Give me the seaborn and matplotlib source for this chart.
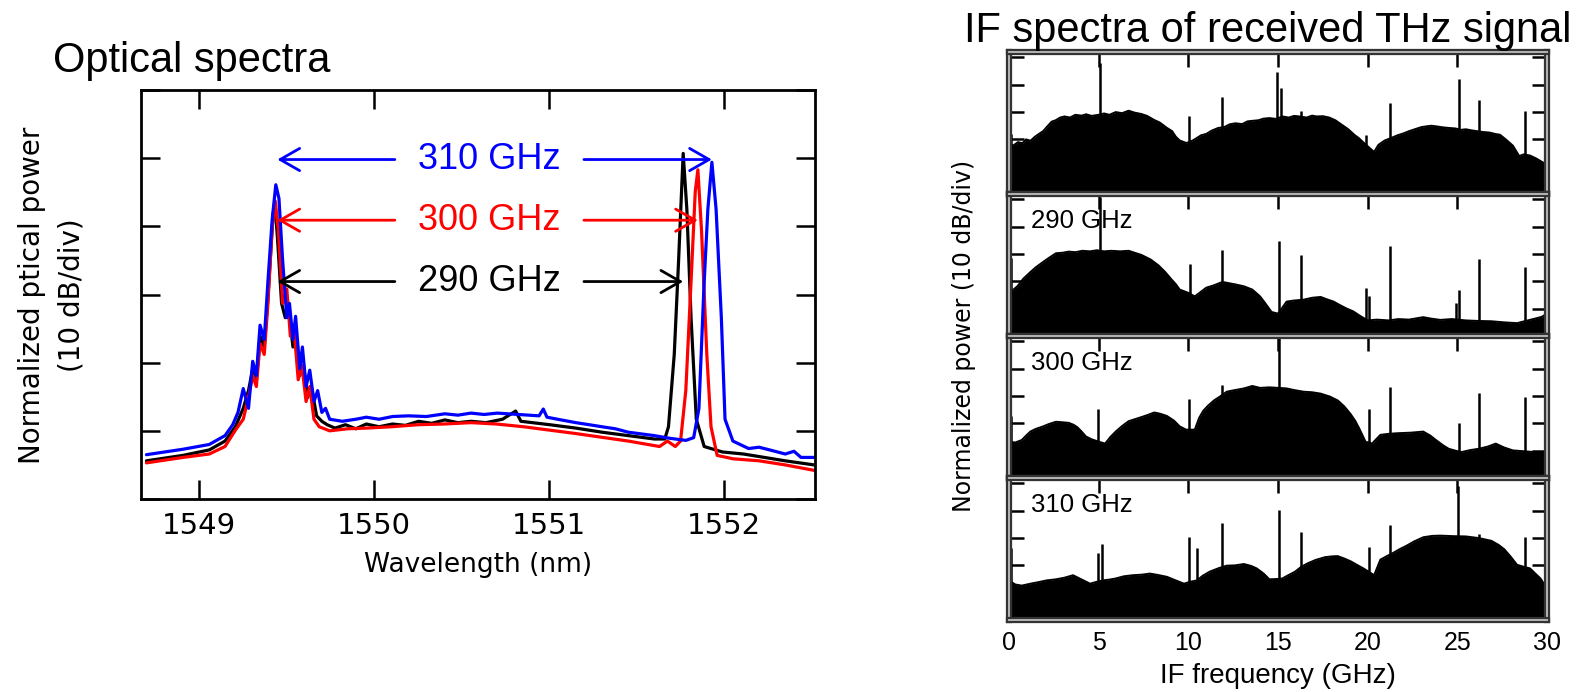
import numpy as np
import pandas as pd
import seaborn as sns
import matplotlib.pyplot as plt
import matplotlib.patheffects as pe

# -------------------------------
# Optical spectra (wavelength in nm, power in 10 dB divisions above frame bottom)
# -------------------------------
wl_blue = [1548.701, 1548.910, 1549.060, 1549.150, 1549.194, 1549.224, 1549.254, 1549.284,
           1549.308, 1549.329, 1549.350, 1549.374, 1549.395, 1549.419, 1549.440, 1549.458,
           1549.479, 1549.503, 1549.518, 1549.538, 1549.553, 1549.577, 1549.592, 1549.613,
           1549.634, 1549.658, 1549.679, 1549.703, 1549.724, 1549.748, 1549.820, 1549.897,
           1549.957, 1550.030, 1550.107, 1550.197, 1550.300, 1550.406, 1550.480, 1550.555,
           1550.630, 1550.705, 1550.825, 1550.944, 1550.968, 1550.989, 1551.070, 1551.154,
           1551.230, 1551.303, 1551.380, 1551.453, 1551.602, 1551.692, 1551.782, 1551.827,
           1551.857, 1551.887, 1551.908, 1551.931, 1551.955, 1551.985, 1552.006, 1552.051,
           1552.141, 1552.200, 1552.261, 1552.350, 1552.400, 1552.440, 1552.515]
pw_blue = [0.65, 0.73, 0.80, 0.93, 1.09, 1.27, 1.62, 1.33,
           2.02, 1.81, 2.55, 2.34, 3.19, 4.09, 4.61, 4.41,
           3.50, 2.66, 2.87, 2.34, 2.68, 1.91, 2.23, 1.65,
           1.89, 1.43, 1.59, 1.27, 1.33, 1.17, 1.14, 1.17,
           1.20, 1.17, 1.21, 1.22, 1.21, 1.25, 1.23, 1.26,
           1.24, 1.26, 1.24, 1.22, 1.32, 1.20, 1.16, 1.12,
           1.09, 1.06, 1.03, 0.98, 0.93, 0.89, 0.86, 0.90,
           1.33, 3.19, 4.25, 4.94, 4.25, 2.66, 1.17, 0.85,
           0.74, 0.76, 0.72, 0.66, 0.70, 0.61, 0.61]

wl_red = [1548.701, 1548.910, 1549.060, 1549.150, 1549.209, 1549.254, 1549.284, 1549.308,
          1549.329, 1549.350, 1549.374, 1549.395, 1549.419, 1549.437, 1549.455, 1549.479,
          1549.503, 1549.523, 1549.544, 1549.568, 1549.589, 1549.613, 1549.634, 1549.658,
          1549.688, 1549.748, 1549.850, 1549.957, 1550.100, 1550.256, 1550.400, 1550.555,
          1550.700, 1550.855, 1551.154, 1551.453, 1551.632, 1551.677, 1551.722, 1551.752,
          1551.782, 1551.812, 1551.836, 1551.851, 1551.872, 1551.902, 1551.926, 1551.961,
          1552.051, 1552.201, 1552.350, 1552.515]
pw_red = [0.53, 0.61, 0.66, 0.77, 1.01, 1.17, 1.49, 1.81,
          1.65, 2.28, 2.12, 2.87, 3.98, 4.37, 3.93, 2.87,
          3.08, 2.39, 2.50, 1.75, 1.96, 1.43, 1.65, 1.17,
          1.06, 1.00, 1.03, 1.04, 1.06, 1.09, 1.10, 1.12,
          1.10, 1.06, 0.96, 0.85, 0.77, 0.85, 0.77, 0.85,
          1.59, 3.19, 4.51, 4.83, 3.93, 2.12, 1.06, 0.64,
          0.59, 0.56, 0.50, 0.42]

wl_black = [1548.701, 1548.910, 1549.060, 1549.150, 1549.209, 1549.254, 1549.284, 1549.308,
            1549.329, 1549.350, 1549.374, 1549.395, 1549.413, 1549.425, 1549.437, 1549.449,
            1549.473, 1549.494, 1549.515, 1549.538, 1549.556, 1549.577, 1549.598, 1549.622,
            1549.643, 1549.673, 1549.703, 1549.733, 1549.778, 1549.838, 1549.897, 1549.957,
            1550.030, 1550.107, 1550.180, 1550.256, 1550.330, 1550.406, 1550.480, 1550.555,
            1550.640, 1550.735, 1550.810, 1550.840, 1551.004, 1551.154, 1551.303, 1551.453,
            1551.602, 1551.662, 1551.683, 1551.716, 1551.740, 1551.767, 1551.788, 1551.812,
            1551.842, 1551.887, 1551.991, 1552.111, 1552.231, 1552.350, 1552.515]
pw_black = [0.56, 0.64, 0.72, 0.85, 1.06, 1.33, 1.59, 1.91,
            1.75, 2.39, 2.23, 2.95, 3.70, 4.20, 4.25, 3.85,
            2.87, 2.66, 2.76, 2.23, 2.44, 1.81, 1.96, 1.49,
            1.65, 1.22, 1.14, 1.09, 1.04, 1.09, 1.03, 1.10,
            1.06, 1.10, 1.08, 1.14, 1.11, 1.16, 1.12, 1.14,
            1.12, 1.17, 1.29, 1.14, 1.09, 1.04, 0.98, 0.93,
            0.88, 0.88, 1.06, 2.12, 3.45, 5.07, 4.25, 2.66,
            1.17, 0.77, 0.69, 0.66, 0.61, 0.56, 0.50]

arrow_labels = ["310 GHz", "300 GHz", "290 GHz"]
arrow_colors = ["#0000ff", "#ff0000", "#000000"]
arrow_levels = [4.98, 4.09, 3.19]
arrow_right = [1551.931, 1551.851, 1551.767]
arrow_left = 1549.449

# -------------------------------
# IF spectra (GHz, level in 10 dB divisions)
# -------------------------------
if_names = ["", "290 GHz", "300 GHz", "310 GHz"]

f_p1 = [0, 0.25, 0.5, 0.75, 0.95, 1.2, 1.45, 1.67, 1.9, 2.1, 2.38, 2.6, 2.85, 3.1, 3.4,
        3.7, 4.05, 4.3, 4.6, 5.0, 5.3, 5.6, 5.95, 6.3, 6.67, 7.0, 7.38, 7.7, 8.1, 8.4,
        8.81, 9.1, 9.3, 9.52, 9.88, 10.05, 10.3, 10.71, 11.0, 11.3, 11.67, 12.0, 12.3,
        12.62, 13.0, 13.3, 13.57, 13.9, 14.2, 14.52, 14.9, 15.24, 15.6, 15.9, 16.19,
        16.6, 16.9, 17.14, 17.5, 17.86, 18.2, 18.57, 18.9, 19.29, 19.5, 19.76, 20.0,
        20.36, 20.6, 20.95, 21.3, 21.67, 22.0, 22.3, 22.62, 23.0, 23.3, 23.57, 23.9,
        24.2, 24.52, 24.9, 25.2, 25.48, 25.8, 26.1, 26.43, 26.8, 27.1, 27.38, 27.7,
        28.1, 28.45, 28.7, 29.05, 29.4, 29.76, 30]
l_p1 = [1.83, 1.78, 1.9, 1.86, 2.0, 1.95, 2.1, 2.2, 2.3, 2.45, 2.65, 2.7, 2.8, 2.84, 2.8,
        2.9, 2.87, 2.92, 2.86, 2.9, 2.95, 2.9, 3.0, 2.96, 3.05, 2.98, 2.93, 2.86, 2.71, 2.62,
        2.42, 2.3, 2.1, 1.96, 1.87, 1.9, 1.98, 2.15, 2.2, 2.32, 2.42, 2.45, 2.55,
        2.59, 2.56, 2.66, 2.68, 2.7, 2.76, 2.78, 2.75, 2.84, 2.8, 2.86, 2.84,
        2.8, 2.87, 2.84, 2.85, 2.8, 2.7, 2.53, 2.38, 2.15, 2.05, 1.89, 1.75,
        1.54, 1.8, 1.96, 2.05, 2.15, 2.22, 2.3, 2.37, 2.45, 2.48, 2.5, 2.47,
        2.44, 2.42, 2.4, 2.35, 2.37, 2.33, 2.3, 2.27, 2.25, 2.2, 2.17, 2.0,
        1.77, 1.39, 1.45, 1.41, 1.3, 1.16, 1.07]
sf_p1 = [0.1, 5.1, 10.05, 11.9, 14.95, 15.14, 16.3, 19.9, 21.25, 25.1, 26.2, 28.8]
sh_p1 = [2.2, 4.8, 2.84, 3.54, 4.48, 3.9, 3.03, 2.15, 3.35, 4.2, 3.43, 3.03]

f_p2 = [0, 0.25, 0.48, 0.8, 1.19, 1.5, 1.9, 2.2, 2.62, 3.0, 3.33, 3.7, 4.1, 4.52, 4.9,
        5.3, 5.71, 6.2, 6.67, 7.0, 7.38, 7.9, 8.33, 8.7, 9.05, 9.3, 9.52, 10.0, 10.36,
        10.7, 11.0, 11.4, 11.9, 12.3, 12.62, 13.1, 13.57, 14.0, 14.29, 14.64, 15.0, 15.48,
        15.9, 16.43, 16.9, 17.38, 17.7, 18.1, 18.4, 18.81, 19.2, 19.52, 20.0, 20.5, 21.19,
        21.7, 22.3, 23.1, 23.5, 24.05, 24.7, 25.48, 26.2, 26.9, 27.6, 28.33, 28.8, 29.29,
        29.7, 30]
l_p2 = [1.58, 1.7, 1.83, 2.1, 2.34, 2.52, 2.71, 2.85, 3.03, 3.05, 3.09, 3.07, 3.12, 3.1, 3.14,
        3.1, 3.12, 3.1, 3.12, 3.05, 2.97, 2.8, 2.59, 2.35, 2.08, 1.9, 1.7, 1.58, 1.45,
        1.62, 1.77, 1.85, 1.98, 1.93, 1.89, 1.82, 1.7, 1.45, 1.2, 0.88, 0.82, 1.26,
        1.3, 1.33, 1.4, 1.43, 1.35, 1.26, 1.15, 1.01, 0.9, 0.76, 0.57, 0.6, 0.57,
        0.62, 0.6, 0.69, 0.64, 0.59, 0.62, 0.57, 0.55, 0.54, 0.5, 0.47, 0.55, 0.63,
        0.7, 0.82]
sf_p2 = [0.1, 5.1, 10.1, 11.9, 15.05, 16.3, 19.9, 20.1, 21.25, 24.9, 25.1, 26.2, 28.8]
sh_p2 = [2.84, 5.1, 2.65, 3.16, 3.47, 2.97, 1.77, 1.45, 3.28, 1.2, 1.7, 2.82, 2.53]

f_p3 = [0, 0.35, 0.71, 0.95, 1.19, 1.5, 1.9, 2.2, 2.62, 3.0, 3.33, 3.6, 3.81, 4.05, 4.29,
        4.6, 5.0, 5.36, 5.65, 5.95, 6.3, 6.67, 7.0, 7.38, 7.7, 8.1, 8.45, 8.81, 9.2, 9.52,
        9.88, 10.36, 10.6, 10.83, 11.1, 11.43, 11.8, 12.14, 12.6, 13.1, 13.57, 14.0, 14.52,
        15.0, 15.48, 15.9, 16.43, 16.9, 17.38, 17.9, 18.33, 18.7, 19.05, 19.3, 19.52, 19.88,
        20.24, 20.71, 21.2, 21.67, 22.4, 23.1, 23.5, 23.81, 24.2, 24.52, 24.9, 25.24, 25.7,
        26.19, 26.7, 27.14, 27.6, 28.1, 28.7, 29.29, 30]
l_p3 = [1.33, 1.3, 1.39, 1.55, 1.7, 1.8, 1.89, 1.97, 2.06, 2.04, 2.02, 1.95, 1.86, 1.7, 1.52,
        1.42, 1.33, 1.26, 1.5, 1.7, 1.9, 2.08, 2.15, 2.23, 2.3, 2.4, 2.35, 2.27, 2.1, 1.89,
        1.77, 1.77, 2.2, 2.46, 2.65, 2.84, 3.0, 3.16, 3.22, 3.28, 3.37, 3.3, 3.32,
        3.3, 3.28, 3.22, 3.16, 3.14, 3.09, 2.98, 2.84, 2.62, 2.34, 2.1, 1.83, 1.33,
        1.26, 1.58, 1.62, 1.64, 1.66, 1.7, 1.55, 1.39, 1.2, 1.07, 1.0, 0.95, 1.02,
        1.07, 1.15, 1.26, 1.12, 1.01, 0.98, 0.95, 0.95]
sf_p3 = [0.1, 4.95, 10.05, 11.9, 15.05, 20.1, 21.25, 25.1, 26.2, 28.8]
sh_p3 = [2.27, 2.53, 2.9, 3.41, 5.2, 2.53, 3.35, 2.02, 3.12, 2.97]

f_p4 = [0, 0.35, 0.71, 1.2, 1.67, 2.1, 2.62, 3.1, 3.57, 4.0, 4.52, 4.9, 5.24, 5.6, 5.95,
        6.4, 6.9, 7.4, 7.86, 8.3, 8.81, 9.3, 9.76, 10.1, 10.48, 10.8, 11.19, 11.7, 12.14,
        12.6, 13.1, 13.5, 13.81, 14.2, 14.52, 14.9, 15.24, 15.6, 15.95, 16.3, 16.67, 17.1,
        17.62, 18.0, 18.33, 18.7, 19.05, 19.4, 19.76, 20.1, 20.36, 20.71, 21.1, 21.43, 21.8,
        22.14, 22.6, 23.1, 23.6, 24.05, 24.8, 25.48, 26.2, 26.9, 27.3, 27.62, 28.0, 28.33,
        28.7, 29.05, 29.35, 29.64, 30]
l_p4 = [1.45, 1.3, 1.26, 1.33, 1.39, 1.45, 1.49, 1.55, 1.64, 1.5, 1.33, 1.4, 1.45, 1.48, 1.52,
        1.6, 1.64, 1.66, 1.7, 1.65, 1.58, 1.45, 1.33, 1.4, 1.45, 1.62, 1.77, 1.9, 1.99,
        2.0, 2.05, 1.98, 1.89, 1.7, 1.49, 1.5, 1.52, 1.65, 1.77, 1.95, 2.08, 2.2,
        2.3, 2.33, 2.34, 2.25, 2.15, 2.02, 1.89, 1.75, 1.64, 2.21, 2.35, 2.46, 2.6,
        2.71, 2.88, 3.03, 3.08, 3.09, 3.07, 3.06, 3.0, 2.9, 2.75, 2.59, 2.3, 2.02,
        1.95, 1.89, 1.7, 1.52, 1.14]
sf_p4 = [0.1, 4.95, 5.2, 10.05, 10.5, 11.9, 15.05, 16.3, 20.1, 21.25, 25.05, 26.2, 28.8]
sh_p4 = [2.65, 2.46, 2.78, 3.03, 2.65, 3.56, 4.04, 3.22, 2.68, 3.47, 4.92, 3.16, 3.03]

if_freqs = [f_p1, f_p2, f_p3, f_p4]
if_levels = [l_p1, l_p2, l_p3, l_p4]
spike_freqs = [sf_p1, sf_p2, sf_p3, sf_p4]
spike_levels = [sh_p1, sh_p2, sh_p3, sh_p4]

# -------------------------------
# Figure
# -------------------------------
sns.set_theme(style="ticks")
plt.rcParams["font.family"] = ["DejaVu Sans"]
plt.rcParams["text.color"] = "black"
plt.rcParams["axes.labelcolor"] = "black"
plt.rcParams["xtick.color"] = "black"
plt.rcParams["ytick.color"] = "black"
ARIAL = "Liberation Sans"

W, H = 1595, 692
fig = plt.figure(figsize=(W / 100, H / 100), dpi=100)

# ---- Left: optical spectra
ax = fig.add_axes([141 / W, 1 - 499 / H, 674 / W, 409 / H])
for wl, pw, c in [(wl_black, pw_black, "black"), (wl_red, pw_red, "#ff0000"),
                  (wl_blue, pw_blue, "#0000ff")]:
    sns.lineplot(x=wl, y=pw, color=c, lw=2.3, ax=ax, estimator=None, sort=False)

ax.set_xlim(1548.67, 1552.52)
ax.set_ylim(0, 6)
ax.set_xticks([1549, 1550, 1551, 1552])
ax.set_yticks(range(7))
ax.set_yticklabels([])
ax.tick_params(direction="in", length=14, width=1.8, top=True, right=True,
               labelsize=21, pad=9, colors="black")
for sp in ax.spines.values():
    sp.set_linewidth(2)
    sp.set_color("black")

for lab, c, lev, xr in zip(arrow_labels, arrow_colors, arrow_levels, arrow_right):
    ax.text(1550.66, lev, lab, color=c, fontsize=26, family=ARIAL,
            ha="center", va="center")
    for x0, x1 in [(1550.12, arrow_left), (1551.20, xr)]:
        ax.annotate("", xy=(x1, lev), xytext=(x0, lev),
                    arrowprops=dict(arrowstyle="->,head_length=0.7,head_width=0.4",
                                    color=c, lw=2.0, mutation_scale=20,
                                    shrinkA=0, shrinkB=0))

ax.set_xlabel("Wavelength (nm)", fontsize=19, color="black")
ax.xaxis.set_label_coords(0.5, -0.13)
ax.xaxis.label.set_va("top")
ax.set_ylabel("")

fig.text(53 / W, 1 - 71.7 / H, "Optical spectra", fontsize=30, family=ARIAL,
         color="black", ha="left", va="baseline")
fig.text(52 / W, 1 - 295 / H, "Normalized ptical power\n(10 dB/div)", fontsize=20,
         color="black", rotation=90, ha="center", va="center",
         multialignment="center", linespacing=1.5)

# ---- Right: IF spectra, four stacked panels
top_px, panel_px = 52, 142
for i in range(4):
    bottom_px = top_px + (i + 1) * panel_px
    axi = fig.add_axes([1009 / W, 1 - bottom_px / H, 538 / W, panel_px / H])
    axi.fill_between(if_freqs[i], 0, if_levels[i], color="black", lw=0)
    sns.lineplot(x=if_freqs[i], y=if_levels[i], color="black", lw=1.4, ax=axi,
                 estimator=None, sort=False)
    axi.vlines(spike_freqs[i], 0, spike_levels[i], color="black", lw=1.8)
    axi.set_xlim(0, 30)
    axi.set_ylim(0, 5.2)
    axi.set_xticks(range(0, 31, 5))
    axi.set_yticks(range(6))
    axi.set_yticklabels([])
    axi.tick_params(direction="in", length=11, width=1.8, top=True, right=True,
                    labelsize=18, pad=8, labelbottom=(i == 3), colors="black")
    plt.setp(axi.get_xticklabels(), family=ARIAL)
    for sp in axi.spines.values():
        sp.set_linewidth(1.4)
        sp.set_color("#b5b5b5")
        sp.set_path_effects([pe.Stroke(linewidth=4.5, foreground="#333333"), pe.Normal()])
    if if_names[i]:
        axi.text(0.04, 0.81, if_names[i], transform=axi.transAxes, fontsize=18.5,
                 family=ARIAL, color="black", ha="left", va="center")
    if i == 3:
        axi.set_xlabel("IF frequency (GHz)", fontsize=20, family=ARIAL, color="black")
        axi.xaxis.set_label_coords(0.5, -0.30)
        axi.xaxis.label.set_va("top")
    else:
        axi.set_xlabel("")
    axi.set_ylabel("")

fig.text(964 / W, 1 - 336 / H, "Normalized power (10 dB/div)", fontsize=17,
         color="black", rotation=90, ha="center", va="center")
fig.text(964 / W, 1 - 42 / H, "IF spectra of received THz signal", fontsize=30,
         family=ARIAL, color="black", ha="left", va="baseline")

fig.savefig("out.png", dpi=100)
